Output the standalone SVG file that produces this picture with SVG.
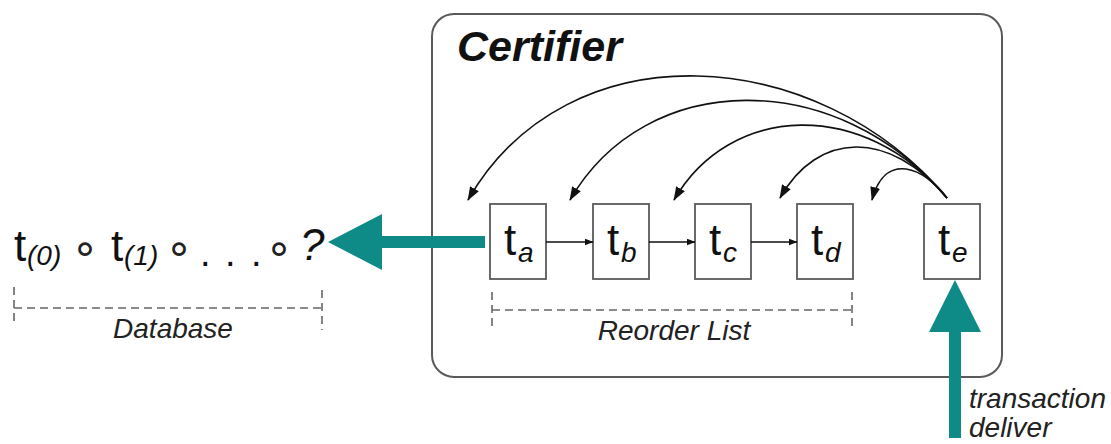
<svg xmlns="http://www.w3.org/2000/svg" width="1111" height="444" viewBox="0 0 1111 444">
  <style>
    .frame { fill: #ffffff; stroke: #5a5a5a; stroke-width: 2; }
    .node rect { fill: #ffffff; stroke: #5a5a5a; stroke-width: 1.8; }
    .t { font-family: "Liberation Sans", Arial, sans-serif; font-size: 44px; fill: #111; }
    .sub { font-family: "Liberation Sans", Arial, sans-serif; font-size: 28px; font-style: italic; fill: #111; }
    .ring { font-family: "DejaVu Sans", sans-serif; font-size: 44px; fill: #222; text-anchor: middle; }
    .dots { font-family: "Liberation Sans", Arial, sans-serif; font-size: 38px; fill: #111; }
    .label { font-family: "Liberation Sans", Arial, sans-serif; font-size: 28px; font-style: italic; fill: #222; }
    .title { font-family: "Liberation Sans", Arial, sans-serif; font-size: 43px; font-style: italic; font-weight: bold; fill: #111; }
    .bracket { fill: none; stroke: #666; stroke-width: 1.6; stroke-dasharray: 8 5; }
    .link { fill: none; stroke: #111; stroke-width: 1.6; }
    .seq { fill: none; stroke: #111; stroke-width: 1.3; }
    .flow { fill: #0e8a87; }
  </style>
  <defs>
    <marker id="head" viewBox="0 0 14 10" refX="13" refY="5" markerWidth="14" markerHeight="10" markerUnits="userSpaceOnUse" orient="auto">
      <path d="M0,0 L14,5 L0,10 Z" fill="#111"/>
    </marker>
    <marker id="small" viewBox="0 0 9 7" refX="8.5" refY="3.5" markerWidth="9" markerHeight="7" markerUnits="userSpaceOnUse" orient="auto">
      <path d="M0,0 L9,3.5 L0,7 Z" fill="#111"/>
    </marker>
  </defs>

  <!-- certifier container -->
  <g id="certifier">
    <rect class="frame" x="432" y="14" width="570" height="363" rx="22" ry="22"/>
    <text class="title" x="457" y="61">Certifier</text>
  </g>

  <!-- database sequence -->
  <g id="database">
    <text class="t" x="14" y="261">t</text>
    <text class="sub" x="27" y="265">(0)</text>
    <text class="ring" x="85" y="263">∘</text>
    <text class="t" x="111" y="261">t</text>
    <text class="sub" x="124" y="265">(1)</text>
    <text class="ring" x="179" y="263">∘</text>
    <text class="dots" x="200 225 251" y="266">...</text>
    <text class="ring" x="279" y="263">∘</text>
    <text class="t" x="300" y="260" font-style="italic">?</text>
    <path class="bracket" d="M14,287 V324 M14,308 H322 M322,290 V330"/>
    <text class="label" x="173" y="338" text-anchor="middle">Database</text>
  </g>

  <!-- reorder list nodes -->
  <g id="node-ta" class="node">
    <rect x="490" y="204" width="56" height="75"/>
    <text class="t" x="504" y="255">t</text><text class="sub" x="518" y="262">a</text>
  </g>
  <g id="node-tb" class="node">
    <rect x="593" y="204" width="56" height="75"/>
    <text class="t" x="607" y="255">t</text><text class="sub" x="621" y="262">b</text>
  </g>
  <g id="node-tc" class="node">
    <rect x="695" y="204" width="56" height="75"/>
    <text class="t" x="709" y="255">t</text><text class="sub" x="723" y="262">c</text>
  </g>
  <g id="node-td" class="node">
    <rect x="797" y="204" width="56" height="75"/>
    <text class="t" x="811" y="255">t</text><text class="sub" x="825" y="262">d</text>
  </g>
  <g id="node-te" class="node">
    <rect x="924" y="204" width="56" height="75"/>
    <text class="t" x="938" y="255">t</text><text class="sub" x="952" y="262">e</text>
  </g>

  <g id="reorder-list">
    <path class="bracket" d="M492,292 V330 M492,310 H852 M852,292 V330"/>
    <text class="label" x="674" y="340" text-anchor="middle">Reorder List</text>
  </g>

  <!-- connectors -->
  <g id="connectors">
    <path class="seq" d="M546,242 H593" marker-end="url(#small)"/>
    <path class="seq" d="M649,242 H695" marker-end="url(#small)"/>
    <path class="seq" d="M751,242 H797" marker-end="url(#small)"/>

    <!-- back-references from the incoming transaction to each slot -->
    <path class="link" d="M947,198 C819,44 568,26 468,200" marker-end="url(#head)"/>
    <path class="link" d="M947,198 C838,67 646,68 570,200" marker-end="url(#head)"/>
    <path class="link" d="M947,198 C864,98 730,103 674,200" marker-end="url(#head)"/>
    <path class="link" d="M947,198 C889,129 818,131 780,198" marker-end="url(#head)"/>
    <path class="link" d="M947,198 C925,168 885,150 872,200" marker-end="url(#head)"/>

    <polygon class="flow" points="328,242 382,214 382,236 485,236 485,248 382,248 382,270"/>
    <polygon class="flow" points="955,280 929,332 949,332 949,438 961,438 961,332 981,332"/>
  </g>

  <g id="delivery-label">
    <text class="label" x="969" y="408">transaction</text>
    <text class="label" x="969" y="437">deliver</text>
  </g>
</svg>
